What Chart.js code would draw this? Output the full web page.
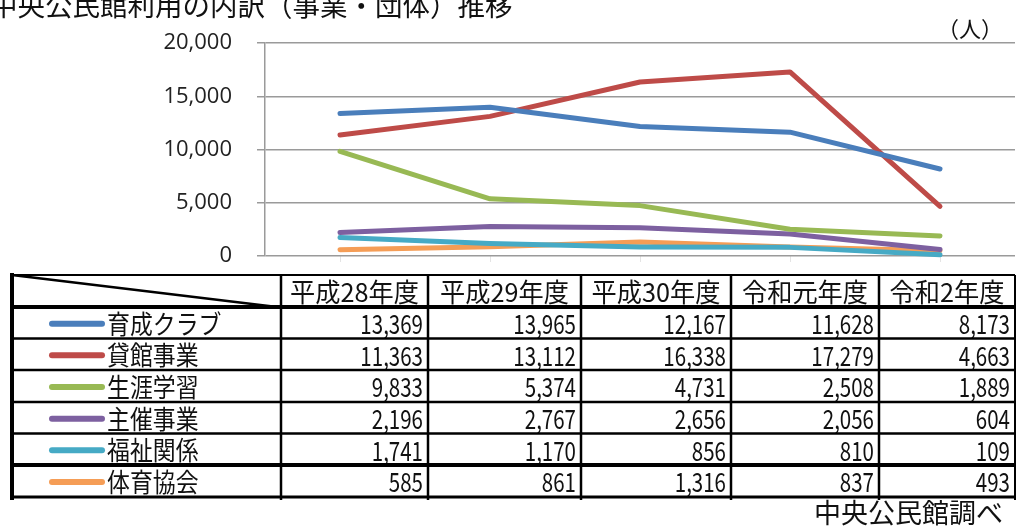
<!DOCTYPE html>
<html>
<head>
<meta charset="utf-8">
<script src="https://cdn.jsdelivr.net/npm/chart.js@4/dist/chart.umd.min.js"></script>
<style>
  html, body { margin: 0; padding: 0; background: #fff; overflow: hidden; }
</style>
</head>
<body>
<canvas id="chart" width="1019" height="527"></canvas>
<script>
// data
const years = ['平成28年度', '平成29年度', '平成30年度', '令和元年度', '令和2年度'];
const seriesNames = ['育成クラブ', '貸館事業', '生涯学習', '主催事業', '福祉関係', '体育協会'];
const ikuseiClub = [13369, 13965, 12167, 11628, 8173];
const kashikan = [11363, 13112, 16338, 17279, 4663];
const shogaiGakushu = [9833, 5374, 4731, 2508, 1889];
const shusaiJigyo = [2196, 2767, 2656, 2056, 604];
const fukushi = [1741, 1170, 856, 810, 109];
const taiiku = [585, 861, 1316, 837, 493];
const yTicks = [0, 5000, 10000, 15000, 20000];

const titleText = '中央公民館利用の内訳（事業・団体）推移';
const unitText = '（人）';
const sourceText = '中央公民館調べ';

const allValues = [ikuseiClub, kashikan, shogaiGakushu, shusaiJigyo, fukushi, taiiku];
const colors = ['#4A7EBB', '#BE4B48', '#98B954', '#7D60A0', '#46AAC5', '#F59D56'];

// table layout
const colEdges = [12, 281, 428, 581, 731, 879, 1015];
const rowEdges = [275, 307, 338.5, 370, 402, 433.5, 465, 497];
const cjk = '"Noto Sans CJK JP", sans-serif';

function fmt(v) { return v.toLocaleString('en-US'); }

function drawText(ctx, text, x, y, align, font, sx) {
  ctx.save();
  ctx.font = font;
  ctx.textAlign = align;
  ctx.textBaseline = 'middle';
  ctx.translate(x, y);
  ctx.scale(sx, 1);
  ctx.fillText(text, 0, 0);
  ctx.restore();
}

function hLine(ctx, x1, x2, y, w) {
  ctx.lineWidth = w;
  ctx.beginPath();
  ctx.moveTo(x1, y);
  ctx.lineTo(x2, y);
  ctx.stroke();
}

function vLine(ctx, x, y1, y2, w) {
  ctx.lineWidth = w;
  ctx.beginPath();
  ctx.moveTo(x, y1);
  ctx.lineTo(x, y2);
  ctx.stroke();
}

const tablePlugin = {
  id: 'tablePlugin',
  afterDraw(chart) {
    const ctx = chart.ctx;
    ctx.save();
    ctx.fillStyle = '#111';

    // title (clipped at the top like the original) and notes
    drawText(ctx, titleText, -10, 6, 'left', '27.5px ' + cjk, 1);
    drawText(ctx, unitText, 970, 29, 'center', '22px ' + cjk, 1);
    drawText(ctx, sourceText, 1003, 513, 'right', '27px ' + cjk, 1);

    // header
    for (let i = 0; i < years.length; i++) {
      const cx = (colEdges[i + 1] + colEdges[i + 2]) / 2;
      drawText(ctx, years[i], cx, (rowEdges[0] + rowEdges[1]) / 2 + 1, 'center', '26px ' + cjk, 0.97);
    }

    // rows
    for (let r = 0; r < seriesNames.length; r++) {
      const cy = (rowEdges[r + 1] + rowEdges[r + 2]) / 2 + 1;
      ctx.strokeStyle = colors[r];
      ctx.lineCap = 'round';
      hLine(ctx, 52, 102, cy, 6);
      ctx.lineCap = 'butt';
      drawText(ctx, seriesNames[r], 107, cy, 'left', '26px ' + cjk, 0.88);
      for (let i = 0; i < years.length; i++) {
        drawText(ctx, fmt(allValues[r][i]), colEdges[i + 2] - 5, cy, 'right', '27px ' + cjk, 0.76);
      }
    }

    // grid lines
    ctx.strokeStyle = '#000';
    const left = colEdges[0], right = colEdges[colEdges.length - 1];
    hLine(ctx, left, right, rowEdges[0], 2);
    hLine(ctx, left, right, rowEdges[1], 4);
    for (let r = 2; r < rowEdges.length - 1; r++) {
      hLine(ctx, left, right, rowEdges[r], r === 6 ? 4 : 2.5);
    }
    hLine(ctx, left, right, rowEdges[rowEdges.length - 1], 3);
    vLine(ctx, left, rowEdges[0] - 2, rowEdges[rowEdges.length - 1] + 3, 4);
    for (let i = 1; i < colEdges.length - 1; i++) {
      vLine(ctx, colEdges[i], rowEdges[0], rowEdges[rowEdges.length - 1] + 3, 2.5);
    }
    vLine(ctx, right, rowEdges[0], rowEdges[rowEdges.length - 1] + 3, 2);

    // diagonal in the corner cell
    ctx.lineWidth = 2.5;
    ctx.beginPath();
    ctx.moveTo(left, rowEdges[0]);
    ctx.lineTo(colEdges[1] - 4, rowEdges[1]);
    ctx.stroke();

    ctx.restore();
  }
};

new Chart(document.getElementById('chart'), {
  type: 'line',
  data: {
    labels: years,
    datasets: seriesNames.map((name, i) => ({
      label: name,
      data: allValues[i],
      borderColor: colors[i],
      backgroundColor: colors[i],
      borderWidth: 5,
      borderCapStyle: 'round',
      borderJoinStyle: 'round',
      pointRadius: 0,
      tension: 0,
      fill: false,
      clip: false
    }))
  },
  options: {
    responsive: false,
    animation: false,
    devicePixelRatio: 1,
    layout: { padding: { left: 0, right: 4, top: 43, bottom: 263 } },
    plugins: {
      legend: { display: false },
      title: { display: false },
      tooltip: { enabled: false }
    },
    scales: {
      x: {
        type: 'category',
        offset: true,
        afterFit(scale) { scale.height = 8; },
        grid: {
          display: true,
          drawOnChartArea: false,
          drawTicks: true,
          tickLength: 6,
          color: '#e4e4e4'
        },
        border: { display: false },
        ticks: { display: false }
      },
      y: {
        min: 0,
        max: 20000,
        afterFit(scale) { scale.width = 265; },
        afterBuildTicks(scale) { scale.ticks = yTicks.map(v => ({ value: v })); },
        grid: {
          color: '#9a9a9a',
          lineWidth: 1.5,
          drawTicks: true,
          tickLength: 8
        },
        border: { display: true, color: '#9a9a9a', width: 1.5 },
        ticks: {
          padding: 25,
          color: '#222',
          font: { family: '"Open Sans", sans-serif', size: 22 },
          callback: v => fmt(v)
        }
      }
    }
  },
  plugins: [tablePlugin]
});
</script>
</body>
</html>
